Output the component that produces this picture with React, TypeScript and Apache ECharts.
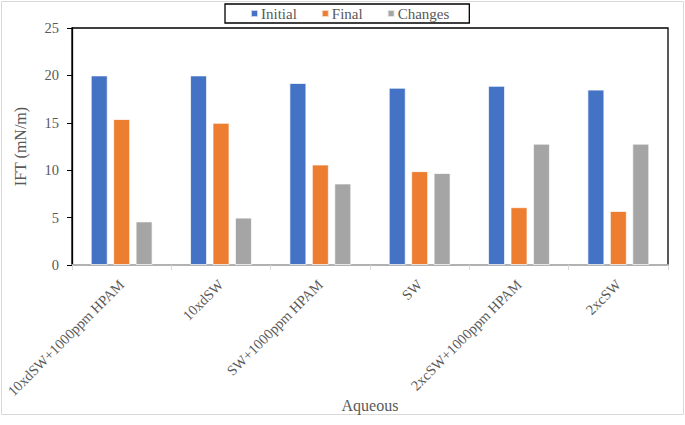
import React, { useEffect, useRef } from "react";
import * as echarts from "echarts";

const categories = [
  "10xdSW+1000ppm HPAM",
  "10xdSW",
  "SW+1000ppm HPAM",
  "SW",
  "2xcSW+1000ppm HPAM",
  "2xcSW",
];
const initialValues = [20.0, 20.0, 19.2, 18.7, 18.9, 18.5];
const finalValues = [15.4, 15.0, 10.6, 9.9, 6.1, 5.7];
const changesValues = [4.6, 5.0, 8.6, 9.7, 12.8, 12.8];

const FONT = "'Liberation Serif', 'Times New Roman', serif";

export default function App() {
  const ref = useRef<HTMLDivElement>(null);
  useEffect(() => {
    if (!ref.current) return;
    const chart = echarts.init(ref.current, null, { renderer: "svg" });
    const barStyle = (color: string) => ({
      color,
      borderColor: "rgba(255,255,255,0.7)",
      borderWidth: 1,
    });
    chart.setOption({
      animation: false,
      backgroundColor: "#fff",
      textStyle: { fontFamily: FONT },
      graphic: [
        {
          type: "rect",
          z: -10,
          silent: true,
          shape: { x: 1.5, y: 1.5, width: 682, height: 413 },
          style: { fill: "none", stroke: "#d9d9d9", lineWidth: 1 },
        },
      ],
      legend: {
        left: 225,
        top: 4,
        borderColor: "#000",
        borderWidth: 1.3,
        padding: [2, 20, 2, 25],
        itemGap: 24,
        itemWidth: 7,
        itemHeight: 7,
        icon: "rect",
        textStyle: { fontFamily: FONT, fontSize: 15, color: "#595959", padding: [0, 0, 0, -2] },
        data: ["Initial", "Final", "Changes"],
      },
      grid: {
        left: 72,
        right: 17,
        top: 28,
        bottom: 160,
        show: true,
        borderColor: "#000",
        borderWidth: 1.3,
        backgroundColor: "transparent",
      },
      xAxis: {
        type: "category",
        data: categories,
        name: "Aqueous",
        nameLocation: "middle",
        nameGap: 132,
        nameMoveOverlap: false,
        nameTextStyle: { fontFamily: FONT, fontSize: 16, color: "#595959" },
        axisLine: { show: true, lineStyle: { color: "#d9d9d9", width: 1.5 } },
        axisTick: { show: true, alignWithLabel: false, length: 5, lineStyle: { color: "#d9d9d9" } },
        axisLabel: {
          rotate: 45,
          margin: 17,
          fontFamily: FONT,
          fontSize: 14.5,
          color: "#595959",
          interval: 0,
        },
      },
      yAxis: {
        type: "value",
        min: 0,
        max: 25,
        interval: 5,
        name: "IFT (mN/m)",
        nameLocation: "middle",
        nameGap: 44,
        nameMoveOverlap: false,
        nameTextStyle: { fontFamily: FONT, fontSize: 16, color: "#595959" },
        axisLine: { show: true, lineStyle: { color: "#000", width: 1.3 } },
        axisTick: { show: true, length: 5, lineStyle: { color: "#000" } },
        splitLine: { show: false },
        axisLabel: { fontFamily: FONT, fontSize: 14.5, color: "#595959", margin: 13 },
      },
      series: [
        { name: "Initial", type: "bar", data: initialValues, barWidth: 17, barGap: "32%", itemStyle: barStyle("#4472c4") },
        { name: "Final", type: "bar", data: finalValues, barWidth: 17, barGap: "32%", itemStyle: barStyle("#ed7d31") },
        { name: "Changes", type: "bar", data: changesValues, barWidth: 17, barGap: "32%", itemStyle: barStyle("#a5a5a5") },
      ],
    });
    return () => chart.dispose();
  }, []);
  return (
    <div
      style={{
        position: "fixed",
        left: 0,
        top: 0,
        width: 685,
        height: 425,
        background: "#fff",
      }}
    >
      <div ref={ref} style={{ width: 685, height: 425 }} />
    </div>
  );
}
